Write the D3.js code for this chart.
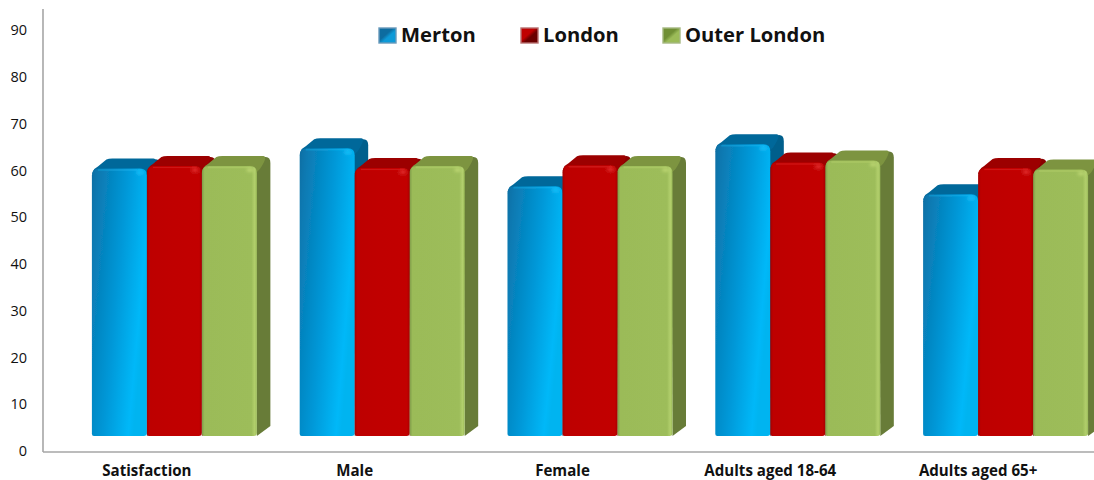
<!DOCTYPE html>
<html><head><meta charset="utf-8">
<script src="https://cdn.jsdelivr.net/npm/d3@7"></script>
<style>html,body{margin:0;padding:0;background:#fff}svg{display:block}
text{font-family:"Open Sans",sans-serif;fill:#111}</style></head>
<body><svg id="c" width="1094" height="480"></svg>
<script>
const categories=["Satisfaction","Male","Female","Adults aged 18-64","Adults aged 65+"];
const seriesNames=["Merton","London","Outer London"];
const merton=[60.4,64.7,56.6,65.6,54.9];
const london=[60.9,60.5,61.1,61.7,60.5];
const outerLondon=[60.9,60.9,60.9,62.1,60.2];
const yTicks=[0,10,20,30,40,50,60,70,80,90];
const values=[merton,london,outerLondon];
const colours=[
 {id:"m",slant:0.45,stops:[[0,"#0b6ea3"],[.1,"#0a78b0"],[.55,"#0098d8"],[.92,"#00b8f8"],[1,"#00b4f0"]],top:"#00689a",side:"#005f8c",hi:"#22c8ff",lg:["#0c6ca0","#0a9ad8"],edge:"#6a9abb"},
 {id:"l",slant:0,stops:[[0,"#a30000"],[.05,"#bd0000"],[.5,"#c00000"],[.95,"#c20404"],[1,"#a80000"]],top:"#9c0000",side:"#8a0000",hi:"#ee3a3a",lg:["#c00000","#6a0000"],edge:"#b87070"},
 {id:"o",slant:0,stops:[[0,"#7f9c48"],[.05,"#9bbb59"],[.9,"#9dbd5a"],[.96,"#b2cf6c"],[1,"#9bbb59"]],top:"#7d9440",side:"#687c38",hi:"#c6de7a",lg:["#6f8f35","#9bbb59"],edge:"#a5b880"}];

const svg=d3.select("#c");
const defs=svg.append("defs");
defs.append("filter").attr("id","soft").attr("x","-5%").attr("y","-5%").attr("width","110%").attr("height","110%")
  .append("feGaussianBlur").attr("stdDeviation",0.5);
defs.append("filter").attr("id","glow").attr("x","-100%").attr("y","-100%").attr("width","300%").attr("height","300%")
  .append("feGaussianBlur").attr("stdDeviation",1.5);
colours.forEach(c=>{
  const g=defs.append("linearGradient").attr("id","g"+c.id).attr("x1",0).attr("y1",0).attr("x2",1).attr("y2",c.slant);
  c.stops.forEach(s=>g.append("stop").attr("offset",s[0]).attr("stop-color",s[1]));
  const s=defs.append("linearGradient").attr("id","s"+c.id).attr("x1",0).attr("y1",0).attr("x2",1).attr("y2",1);
  s.append("stop").attr("offset","0.42").attr("stop-color",c.lg[0]);
  s.append("stop").attr("offset","0.58").attr("stop-color",c.lg[1]);
});

const y=d3.scaleLinear().domain([0,90]).range([451,30]);
const x0=d3.scaleBand().domain(categories).range([43,1082]).padding(0);
const barW=55, dx=13.5, dy=10, base=15;
const x=d3.scaleBand().domain(seriesNames).range([-55,-55+3*barW]);

// axes
const root=svg.append("g").attr("filter","url(#soft)");
root.append("line").attr("x1",43).attr("x2",1094).attr("y1",452).attr("y2",452).attr("stroke","#a6a6a6").attr("stroke-width",1.6);
root.append("line").attr("x1",43).attr("x2",43).attr("y1",9).attr("y2",452).attr("stroke","#a6a6a6").attr("stroke-width",1.6);
svg.append("g").selectAll("text").data(yTicks).join("text")
  .attr("x",27).attr("y",d=>y(d)).attr("dy","0.36em").attr("text-anchor","end")
  .attr("font-size",14.5).text(d=>d);
svg.append("g").selectAll("text").data(categories).join("text")
  .attr("x",d=>x0(d)+x0.bandwidth()/2).attr("y",476).attr("text-anchor","middle")
  .attr("font-size",15.1).attr("font-weight",700).text(d=>d);

// bars
const bars=root.append("g");
categories.forEach((cat,i)=>{
  seriesNames.forEach((s,j)=>{
    const c=colours[j], v=values[j][i];
    const xa=x0(cat)+x0.bandwidth()/2+x(s), xb=xa+x.bandwidth();
    const t=y(v), b=y(0)-base, r=7;
    const g=bars.append("g");
    g.append("path").attr("fill",c.side)
      .attr("d",`M ${xb-1} ${t+2} L ${xb+dx-6} ${t-dy+1} Q ${xb+dx} ${t-dy} ${xb+dx} ${t-dy+7} L ${xb+dx} ${b-dy} L ${xb} ${b} Z`);
    g.append("path").attr("fill",c.top)
      .attr("d",`M ${xa+1} ${t+3} Q ${xa+2} ${t} ${xa+6} ${t-2} L ${xa+dx+1} ${t-dy+1} Q ${xa+dx+3} ${t-dy} ${xa+dx+7} ${t-dy} L ${xb+dx-7} ${t-dy} Q ${xb+dx-2} ${t-dy} ${xb+3} ${t+3} L ${xb} ${t+6} L ${xa} ${t+6} Z`);
    g.append("path").attr("fill",`url(#g${c.id})`)
      .attr("d",`M ${xa} ${b-2} L ${xa} ${t+r} Q ${xa} ${t} ${xa+r} ${t} L ${xb-r} ${t} Q ${xb} ${t} ${xb} ${t+r} L ${xb} ${b-3} Q ${xb} ${b} ${xb-3} ${b} L ${xa+2} ${b} Q ${xa} ${b} ${xa} ${b-2} Z`);
    g.append("line").attr("x1",xa+6).attr("x2",xb-5).attr("y1",t+1.5).attr("y2",t+1.5)
      .attr("stroke",c.hi).attr("stroke-opacity",0.3).attr("stroke-width",1.5);
    g.append("ellipse").attr("cx",xb-7).attr("cy",t+4).attr("rx",3.5).attr("ry",2).attr("fill",c.hi).attr("fill-opacity",0.7).attr("filter","url(#glow)");
  });
});

// legend
const legendX=d3.scaleOrdinal().domain(seriesNames).range([379,521,663]);
const lg=svg.append("g").selectAll("g").data(seriesNames).join("g")
  .attr("transform",d=>`translate(${legendX(d)},28)`);
lg.append("rect").attr("width",17).attr("height",15).attr("fill",(d,i)=>`url(#s${colours[i].id})`)
  .attr("stroke",(d,i)=>colours[i].edge).attr("stroke-width",1.4).attr("filter","url(#soft)");
lg.append("text").attr("x",22).attr("y",14).attr("font-size",20.2).attr("font-weight",700).text(d=>d);
</script></body></html>
